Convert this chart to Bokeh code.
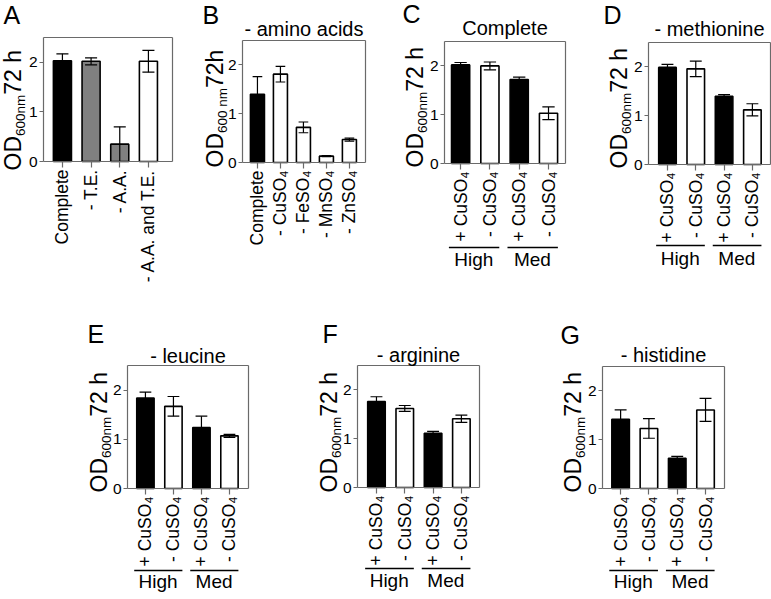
import math
from bokeh.plotting import figure
from bokeh.models import Range1d, FixedTicker, Label, Arrow, Spacer, LinearAxis
from bokeh.layouts import row, column
from bokeh.embed import file_html
from bokeh.resources import INLINE

FONT = "Liberation Sans"

# ---------------- data ----------------
a_labels = ["Complete", "- T.E.", "- A.A.", "- A.A. and T.E."]
a_values = [2.03, 2.02, 0.35, 2.02]
a_errors = [0.14, 0.07, 0.35, 0.22]
a_colors = ["#000000", "#808080", "#808080", "#ffffff"]

b_labels = ["Complete", "- CuSO\u2084", "- FeSO\u2084", "- MnSO\u2084", "- ZnSO\u2084"]
b_values = [1.40, 1.81, 0.72, 0.13, 0.47]
b_errors = [0.36, 0.16, 0.11, 0.01, 0.03]
b_colors = ["#000000", "#ffffff", "#ffffff", "#ffffff", "#ffffff"]

cu_labels = ["+ CuSO\u2084", "- CuSO\u2084", "+ CuSO\u2084", "- CuSO\u2084"]
cu_colors = ["#000000", "#ffffff", "#000000", "#ffffff"]
group_labels = ["High", "Med"]

c_values = [2.02, 2.00, 1.72, 1.03]
c_errors = [0.05, 0.08, 0.05, 0.13]
d_values = [1.99, 1.96, 1.40, 1.12]
d_errors = [0.06, 0.16, 0.03, 0.125]
e_values = [1.84, 1.67, 1.24, 1.07]
e_errors = [0.12, 0.20, 0.23, 0.03]
f_values = [1.76, 1.62, 1.11, 1.41]
f_errors = [0.10, 0.06, 0.04, 0.075]
g_values = [1.42, 1.23, 0.62, 1.61]
g_errors = [0.19, 0.20, 0.04, 0.235]

titles = {"B": "- amino acids", "C": "Complete", "D": "- methionine",
          "E": "- leucine", "F": "- arginine", "G": "- histidine"}

AX = "#6a6a6a"
YMAX = 2.5
MID = 0.3465   # baseline offset below the middle of the text box, in em


def bare_axis(**kw):
    ax = LinearAxis(ticker=FixedTicker(ticks=[]), major_tick_out=0, major_tick_in=0,
                    minor_tick_out=0, minor_tick_in=0, axis_line_color=AX,
                    axis_line_width=1.2, major_label_text_font_size="0px", **kw)
    return ax


def make_panel(letter, origin, size, box, xbox, labels, values, errors, colors,
               letter_pos, ylab_pos, ysub, title_base=None, group_line=None,
               group_text=None, bar_w=0.62):
    ox, oy = origin
    cw, ch = size
    L, R, T, B = box[0] - ox, box[1] - ox, box[2] - oy, box[3] - oy
    sx = (xbox[1] - xbox[0]) / (R - L)
    sy = YMAX / (B - T)
    xr = Range1d(xbox[0] - L * sx, xbox[0] + (cw - L) * sx)
    yr = Range1d(-(ch - B) * sy, YMAX + T * sy)
    p = figure(width=cw, height=ch, x_range=xr, y_range=yr, min_border=0,
               output_backend="svg", toolbar_location=None, title=None)
    p.background_fill_color = "white"
    p.border_fill_color = "white"
    p.outline_line_color = None
    p.xgrid.visible = False
    p.ygrid.visible = False

    def X(px):  # page px -> data x
        return xbox[0] + (px - ox - L) * sx

    def Y(py):  # page px -> data y
        return (B - (py - oy)) * sy

    def text(x_px, base_px, txt, fs, align="left", rotated=False, data_x=None):
        # place text so that its alphabetic baseline lies at base_px
        if rotated:
            xx = X(base_px - MID * fs)
            yy = Y(x_px)
            ang = math.pi / 2
        else:
            xx = X(x_px) if data_x is None else data_x
            yy = Y(base_px - MID * fs)
            ang = 0.0
        p.add_layout(Label(x=xx, y=yy, text=txt, text_font=FONT,
                           text_font_size=f"{fs}px", angle=ang, text_align=align,
                           text_baseline="middle", text_color="black"))

    idx = list(range(len(values)))
    p.vbar(x=idx, top=values, width=bar_w, bottom=0, fill_color=colors,
           line_color="black", line_width=1.6)
    lo = [v - e for v, e in zip(values, errors)]
    hi = [v + e for v, e in zip(values, errors)]
    cap = 0.21
    p.segment(x0=idx, y0=lo, x1=idx, y1=hi, line_color="black", line_width=1.2)
    p.segment(x0=[i - cap for i in idx], y0=hi, x1=[i + cap for i in idx], y1=hi,
              line_color="black", line_width=1.2)
    p.segment(x0=[i - cap for i in idx], y0=lo, x1=[i + cap for i in idx], y1=lo,
              line_color="black", line_width=1.2)

    # axes (fixed at the box edges)
    xa = p.xaxis[0]
    xa.fixed_location = 0
    xa.bounds = tuple(xbox)
    xa.ticker = FixedTicker(ticks=idx)
    xa.major_label_overrides = {i: lab for i, lab in enumerate(labels)}
    xa.major_label_orientation = math.pi / 2
    xa.major_label_text_font = FONT
    xa.major_label_text_font_size = "17.5px"
    xa.major_label_text_color = "black"
    xa.major_label_standoff = 2
    xa.major_tick_out = 6
    xa.major_tick_in = 0
    xa.minor_tick_out = 0
    xa.minor_tick_in = 0
    xa.axis_line_color = AX
    xa.major_tick_line_color = AX
    xa.axis_line_width = 1.2
    xa.major_tick_line_width = 1.2

    ya = p.yaxis[0]
    ya.fixed_location = xbox[0]
    ya.bounds = (0, YMAX)
    ya.ticker = FixedTicker(ticks=[0, 1, 2])
    ya.major_label_text_font = FONT
    ya.major_label_text_font_size = "15.5px"
    ya.major_label_text_color = "black"
    ya.major_label_standoff = 2
    ya.major_tick_out = 4
    ya.major_tick_in = 0
    ya.minor_tick_out = 0
    ya.minor_tick_in = 0
    ya.axis_line_color = AX
    ya.major_tick_line_color = AX
    ya.axis_line_width = 1.2
    ya.major_tick_line_width = 1.2

    p.add_layout(bare_axis(fixed_location=YMAX, bounds=tuple(xbox)), "above")
    p.add_layout(bare_axis(fixed_location=xbox[1], bounds=(0, YMAX)), "right")

    # panel letter
    lx, lb = letter_pos
    text(lx, lb, letter, 25)

    # y label: OD + subscript + rest (rotated, reading upward)
    bx, sy0 = ylab_pos
    big, small = 23, 13.5
    parts = [("OD", big, 0.0, 1.5), (ysub[0], small, 5.0, ysub[1]),
             (ysub[2], big, 0.0, ysub[3])]
    cur = sy0
    for txt, fs, dx, em in parts:
        text(cur, bx + dx, txt, fs, rotated=True)
        cur -= em * fs

    # title
    if title_base is not None:
        text(0, title_base, titles[letter], 20, align="center",
             data_x=(xbox[0] + xbox[1]) / 2)

    if group_line is not None:
        yl = Y(group_line)
        for g, name in enumerate(group_labels):
            i0, i1 = 2 * g, 2 * g + 1
            p.add_layout(Arrow(end=None, start=None, x_start=i0 - 0.4, y_start=yl,
                               x_end=i1 + 0.32, y_end=yl, line_color="black",
                               line_width=1.5))
            text(0, group_text, name, 19, align="center", data_x=(i0 + i1) / 2 - 0.05)
    return p


SUB = ("600nm", 3.057, " 72 h", 1.946 + 0.278)
SUB_B = ("600 nm", 3.335, " 72h", 1.946)

R1, R2 = 0, 300       # page y of row tops
H1, H2 = 300, 298

pA = make_panel("A", (0, R1), (195, H1), (43, 172, 37, 161), (-0.66, 3.84), a_labels,
                a_values, a_errors, a_colors, letter_pos=(3, 23), ylab_pos=(20, 170),
                ysub=SUB, bar_w=0.63)
pB = make_panel("B", (195, R1), (190, H1), (242, 365, 40, 162), (-0.65, 4.70), b_labels,
                b_values, b_errors, b_colors, letter_pos=(202, 23), ylab_pos=(222, 167),
                ysub=SUB_B, title_base=35, bar_w=0.61)
pC = make_panel("C", (385, R1), (195, H1), (444, 565, 41, 163), (-0.55, 3.58), cu_labels,
                c_values, c_errors, cu_colors, letter_pos=(402, 22), ylab_pos=(422, 167),
                ysub=SUB, title_base=34, group_line=247, group_text=266)
pD = make_panel("D", (580, R1), (191, H1), (648, 770, 42, 164), (-0.67, 3.64), cu_labels,
                d_values, d_errors, cu_colors, letter_pos=(603, 23), ylab_pos=(626, 168),
                ysub=SUB, title_base=35, group_line=245, group_text=265)
pE = make_panel("E", (70, R2), (230, H2), (127, 248, 365, 488), (-0.64, 3.68), cu_labels,
                e_values, e_errors, cu_colors, letter_pos=(87, 342), ylab_pos=(106, 492),
                ysub=SUB, title_base=362, group_line=570, group_text=588)
pF = make_panel("F", (300, R2), (245, H2), (357, 479, 365, 487), (-0.67, 3.64), cu_labels,
                f_values, f_errors, cu_colors, letter_pos=(322, 342), ylab_pos=(336, 492),
                ysub=SUB, title_base=361, group_line=568, group_text=587)
pG = make_panel("G", (545, R2), (226, H2), (602, 724, 366, 488), (-0.64, 3.67), cu_labels,
                g_values, g_errors, cu_colors, letter_pos=(560, 343), ylab_pos=(580, 492),
                ysub=SUB, title_base=361, group_line=570, group_text=588)

layout = column(row(pA, pB, pC, pD), row(Spacer(width=70, height=H2), pE, pF, pG))

open("out.html", "w").write(file_html(layout, INLINE))
